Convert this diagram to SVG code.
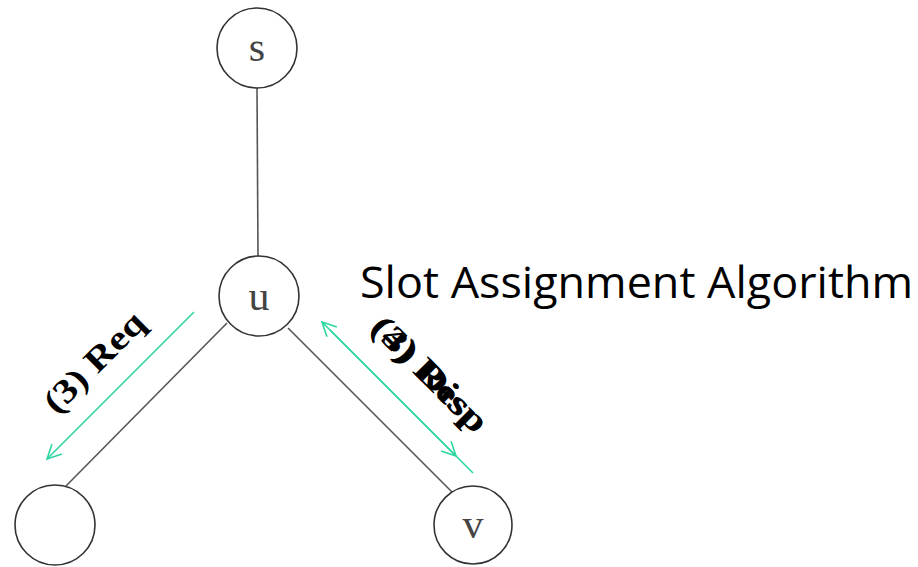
<svg xmlns="http://www.w3.org/2000/svg" width="918" height="567" viewBox="0 0 918 567">
  <style>
    .node circle { fill: #ffffff; stroke: #333333; stroke-width: 1.6; }
    .node text { font-family: "Liberation Serif", "DejaVu Serif", serif; font-size: 42px; fill: #444444; text-anchor: middle; }
    .edge { stroke: #555555; stroke-width: 1.6; fill: none; }
    .msg { stroke: #2ad6a2; stroke-width: 1.6; fill: none; }
    .label { font-family: "Liberation Serif", "DejaVu Serif", serif; font-weight: bold; font-size: 34px; fill: #000000; text-anchor: middle; }
    .title { font-family: "Open Sans", "DejaVu Sans", sans-serif; font-size: 44px; fill: #000000; }
  </style>
  <defs>
    <marker id="head" viewBox="0 0 16 16" refX="15" refY="8" markerWidth="16" markerHeight="16" markerUnits="userSpaceOnUse" orient="auto">
      <path d="M1,1 L15,8 L1,15" fill="none" stroke="#2ad6a2" stroke-width="1.6"/>
    </marker>
  </defs>

  <!-- tree edges -->
  <g id="edges">
    <line class="edge" x1="257" y1="88" x2="258" y2="256"/>
    <line class="edge" x1="227" y1="323" x2="66" y2="486"/>
    <line class="edge" x1="288" y1="328" x2="452" y2="492"/>
  </g>

  <!-- message arrows -->
  <g id="messages">
    <line class="msg" x1="194" y1="312" x2="47" y2="459" marker-end="url(#head)"/>
    <line class="msg" x1="473" y1="473" x2="322" y2="322" marker-end="url(#head)"/>
    <line class="msg" x1="330" y1="330" x2="456" y2="456" marker-end="url(#head)"/>
  </g>

  <g id="node-s" class="node">
    <circle cx="257" cy="48" r="40"/>
    <text x="257" y="61">s</text>
  </g>
  <g id="node-u" class="node">
    <circle cx="259" cy="296" r="40"/>
    <text x="259" y="310">u</text>
  </g>
  <g id="node-left" class="node">
    <circle cx="55" cy="525" r="40"/>
  </g>
  <g id="node-v" class="node">
    <circle cx="473" cy="525" r="39"/>
    <text x="473" y="538">v</text>
  </g>

  <!-- message labels -->
  <g id="labels">
    <text class="label" transform="translate(102,370) rotate(-45)" textLength="128" lengthAdjust="spacingAndGlyphs">(3) Req</text>
    <text class="label" transform="translate(422,382) rotate(45)" textLength="150" lengthAdjust="spacingAndGlyphs">(4) Resp</text>
    <text class="label" transform="translate(422,382) rotate(45)" textLength="150" lengthAdjust="spacingAndGlyphs">(3) Disp</text>
  </g>

  <text class="title" x="360" y="298" textLength="553" lengthAdjust="spacingAndGlyphs">Slot Assignment Algorithm</text>
</svg>
